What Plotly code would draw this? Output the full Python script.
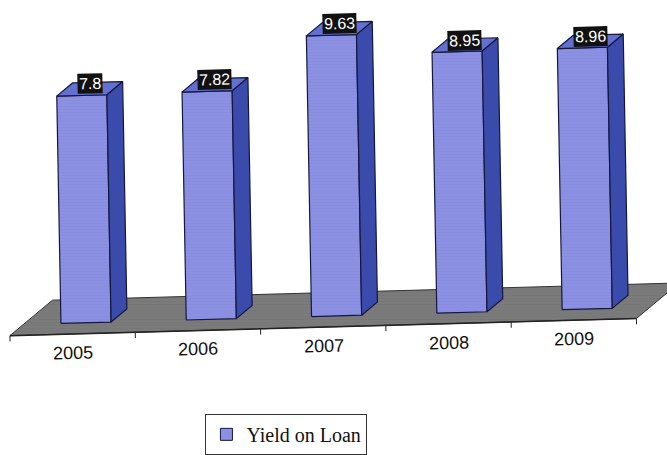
import plotly.graph_objects as go

# ---- data ----
years = ["2005", "2006", "2007", "2008", "2009"]
yield_on_loan = [7.8, 7.82, 9.63, 8.95, 8.96]
series_name = "Yield on Loan"

# ---- oblique 3D projection (category units on x, value units on y) ----
PX_PER_CAT = 125.3     # pixels per category slot
PX_PER_VAL = 29.8      # pixels per value unit
DEPTH_PX = (16.0, 13.0)  # screen offset of one unit of depth (right, up)
SKEW_H = 0.028         # horizontal lines rise slightly to the right
SKEW_V = 0.018         # vertical lines lean slightly to the left
HALF_W = 0.2           # half the bar width, in category units
FLOOR_D = (-0.85, 1.85)  # depth extent of the floor

FIG_W, FIG_H = 667, 455
ORIGIN_PX = (86.0, 330.0)  # screen position of category 0, value 0, depth 0


def project(c, v, d=0.0):
    X = c * PX_PER_CAT + d * DEPTH_PX[0]
    Y = v * PX_PER_VAL + d * DEPTH_PX[1]
    sx = X - SKEW_V * Y
    sy = Y + SKEW_H * X
    return sx / PX_PER_CAT, sy / PX_PER_VAL


def poly(points):
    xs, ys = zip(*[project(*p) for p in points])
    return list(xs) + [xs[0]], list(ys) + [ys[0]]


FRONT = "#8c90e2"
SIDE = "#3b4bab"
TOP = "#6470cf"
EDGE = "#14183f"
FLOOR = "#7b7b7b"

fig = go.Figure()

# floor
n = len(years)
fx, fy = poly([(-0.5, 0, FLOOR_D[0]), (n - 0.5, 0, FLOOR_D[0]),
               (n - 0.5, 0, FLOOR_D[1]), (-0.5, 0, FLOOR_D[1])])
fig.add_trace(go.Scatter(x=fx, y=fy, fill="toself", fillcolor=FLOOR,
                         mode="lines", line=dict(color="#333333", width=1),
                         fillpattern=dict(shape="-", fgcolor="#6e6e6e",
                                          bgcolor=FLOOR, size=3,
                                          solidity=0.2),
                         hoverinfo="skip", showlegend=False))

# category axis along the front edge of the floor, with tick marks
for k in range(n + 1):
    b = k - 0.5
    tx, ty = poly([(b, 0, FLOOR_D[0]), (b, -0.2, FLOOR_D[0])])
    fig.add_trace(go.Scatter(x=tx[:2], y=ty[:2], mode="lines",
                             line=dict(color="#222222", width=1),
                             hoverinfo="skip", showlegend=False))
ax_x, ax_y = poly([(-0.5, 0, FLOOR_D[0]), (n - 0.5, 0, FLOOR_D[0])])
fig.add_trace(go.Scatter(x=ax_x[:2], y=ax_y[:2], mode="lines",
                         line=dict(color="#222222", width=1.5),
                         hoverinfo="skip", showlegend=False))

# bars
for i, v in enumerate(yield_on_loan):
    l, r = i - HALF_W, i + HALF_W
    front = poly([(l, 0, 0), (r, 0, 0), (r, v, 0), (l, v, 0)])
    side = poly([(r, 0, 0), (r, 0, 1), (r, v, 1), (r, v, 0)])
    top = poly([(l, v, 0), (r, v, 0), (r, v, 1), (l, v, 1)])
    fig.add_trace(go.Scatter(x=front[0], y=front[1], fill="toself",
                             fillcolor=FRONT, mode="lines",
                             fillpattern=dict(shape="-", fgcolor="#7c80d4",
                                              bgcolor=FRONT, size=3,
                                              solidity=0.15),
                             line=dict(color=EDGE, width=1.2),
                             hoverinfo="skip", showlegend=False))
    fig.add_trace(go.Scatter(x=side[0], y=side[1], fill="toself",
                             fillcolor=SIDE, mode="lines",
                             line=dict(color=EDGE, width=1.2),
                             hoverinfo="skip", showlegend=False))
    fig.add_trace(go.Scatter(x=top[0], y=top[1], fill="toself",
                             fillcolor=TOP, mode="lines",
                             line=dict(color=EDGE, width=1.2),
                             hoverinfo="skip", showlegend=False))
    # value label sitting on the top face
    lx, ly = project(i, v, 0.5)
    fig.add_annotation(x=lx, y=ly, text=f"{v:g}", showarrow=False,
                       font=dict(family="Liberation Sans, Arial", size=16,
                                 color="white"),
                       bgcolor="#111111", borderpad=1, yshift=5,
                       textangle=-1.4)
    # category label
    cx, cy = project(i, -0.65, FLOOR_D[0])
    fig.add_annotation(x=cx, y=cy, text=years[i], showarrow=False,
                       font=dict(family="Liberation Sans, Arial", size=18,
                                 color="#111111"),
                       textangle=-1.4)

# legend entry
fig.add_trace(go.Scatter(x=[None], y=[None], mode="markers", name=series_name,
                         marker=dict(symbol="square", size=12, color=FRONT,
                                     line=dict(color=EDGE, width=1))))

x_range = [-ORIGIN_PX[0] / PX_PER_CAT, (FIG_W - ORIGIN_PX[0]) / PX_PER_CAT]
y_range = [-(FIG_H - ORIGIN_PX[1]) / PX_PER_VAL, ORIGIN_PX[1] / PX_PER_VAL]

fig.update_layout(
    width=FIG_W, height=FIG_H,
    margin=dict(l=0, r=0, t=0, b=0),
    paper_bgcolor="white", plot_bgcolor="white",
    xaxis=dict(range=x_range, visible=False, fixedrange=True),
    yaxis=dict(range=y_range, visible=False, fixedrange=True),
    showlegend=True,
    legend=dict(x=0.308, y=0.07, xanchor="left", yanchor="top",
                bgcolor="white", bordercolor="#333333", borderwidth=1,
                font=dict(family="Liberation Serif, Times New Roman",
                          size=20, color="#111111"),
                itemwidth=30, tracegroupgap=0),
)

fig.write_html("out.html")
